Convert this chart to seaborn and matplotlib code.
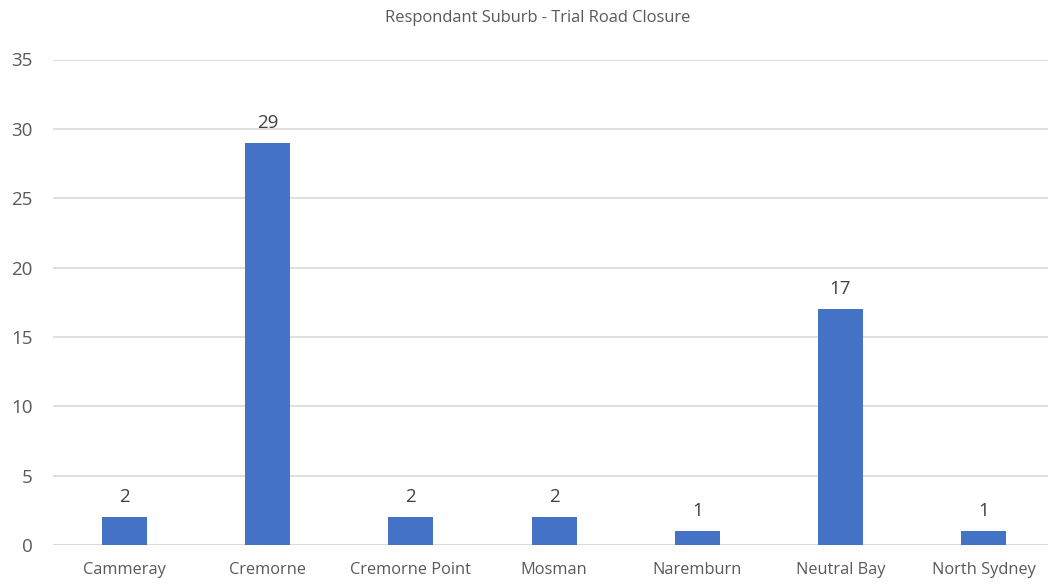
import matplotlib
matplotlib.use("Agg")
import matplotlib.pyplot as plt
import seaborn as sns
import pandas as pd

suburbs = ["Cammeray", "Cremorne", "Cremorne Point", "Mosman",
           "Naremburn", "Neutral Bay", "North Sydney"]
counts = [2, 29, 2, 2, 1, 17, 1]
y_ticks = [0, 5, 10, 15, 20, 25, 30, 35]

sns.set_theme(style="white")
plt.rcParams["font.family"] = ["Open Sans", "DejaVu Sans"]

df = pd.DataFrame({"suburb": suburbs, "count": counts})

fig = plt.figure(figsize=(10.48, 5.86), dpi=100)
ax = fig.add_axes([53 / 1048, 41 / 586, 995 / 1048, 485.5 / 586])

sns.barplot(data=df, x="suburb", y="count", color="#4472C4",
            saturation=1, width=0.314, linewidth=0, ax=ax, zorder=3)

ax.set_xlim(-0.5, 6.45)
ax.set_ylim(0, 35)
ax.set_yticks(y_ticks)
ax.yaxis.grid(True, color="#D9D9D9", linewidth=1.2, zorder=0)
ax.xaxis.grid(False)
for s in ax.spines.values():
    s.set_visible(False)
ax.axhline(0, color="#D9D9D9", linewidth=1.2, zorder=1)

ax.set_xlabel("")
ax.set_ylabel("")
ax.tick_params(axis="y", labelsize=13.5, labelcolor="#595959", length=0, pad=14.5)
ax.tick_params(axis="x", labelsize=11.8, labelcolor="#595959", length=0, pad=12)

for container in ax.containers:
    ax.bar_label(container, labels=[str(v) for v in counts], padding=8,
                 fontsize=13.5, color="#404040")

fig.text(537.5 / 1048, 1 - 18 / 586, "Respondant Suburb - Trial Road Closure",
         ha="center", va="center", fontsize=11.9, color="#595959")

fig.savefig("out.png", dpi=100)
